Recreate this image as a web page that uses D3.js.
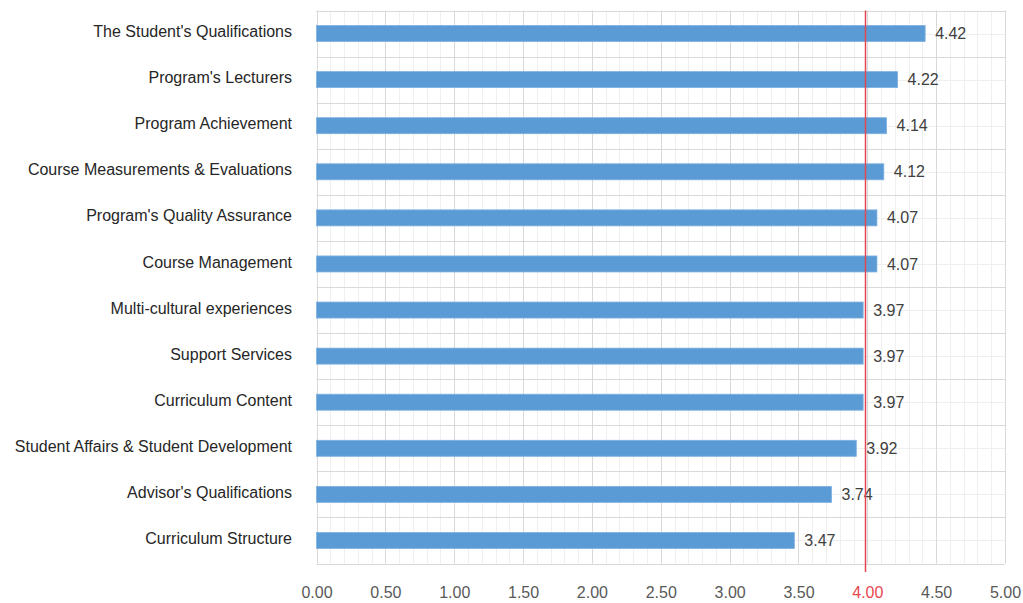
<!DOCTYPE html>
<html>
<head>
<meta charset="utf-8">
<script src="https://cdn.jsdelivr.net/npm/d3@7"></script>
<style>
  html, body { margin: 0; padding: 0; background: #fff; }
  svg { display: block; font-family: "Liberation Sans", Arial, sans-serif; }
</style>
</head>
<body>
<svg id="chart" width="1023" height="603"></svg>
<script>
const categories = [
  "The Student's Qualifications",
  "Program's Lecturers",
  "Program Achievement",
  "Course Measurements & Evaluations",
  "Program's Quality Assurance",
  "Course Management",
  "Multi-cultural experiences",
  "Support Services",
  "Curriculum Content",
  "Student Affairs & Student Development",
  "Advisor's Qualifications",
  "Curriculum Structure"
];
const values = [4.42, 4.22, 4.14, 4.12, 4.07, 4.07, 3.97, 3.97, 3.97, 3.92, 3.74, 3.47];
const tickValues = [0, 0.5, 1, 1.5, 2, 2.5, 3, 3.5, 4, 4.5, 5];
const minorTicks = d3.range(0, 51).map(i => i / 10);
const referenceValue = 4.0;

const svg = d3.select("#chart");
const m = { left: 316.5, right: 1005, top: 10.5, bottom: 563.5 };

const x = d3.scaleLinear().domain([0, 5]).range([m.left, m.right]);
const y = d3.scaleBand().domain(categories).range([m.top, m.bottom]).paddingInner(0).paddingOuter(0);

const g = svg.append("g");

// minor vertical grid
g.selectAll(".vminor").data(minorTicks).join("line")
  .attr("x1", d => Math.round(x(d)) + 0.5).attr("x2", d => Math.round(x(d)) + 0.5)
  .attr("y1", m.top).attr("y2", m.bottom)
  .attr("stroke", "#efefef").attr("stroke-width", 1);

// minor horizontal grid (band centers)
g.selectAll(".hminor").data(categories).join("line")
  .attr("x1", m.left).attr("x2", m.right)
  .attr("y1", d => Math.round(y(d) + y.bandwidth() / 2) + 0.5)
  .attr("y2", d => Math.round(y(d) + y.bandwidth() / 2) + 0.5)
  .attr("stroke", "#efefef").attr("stroke-width", 1);

// major vertical grid
g.selectAll(".vmajor").data(tickValues).join("line")
  .attr("x1", d => Math.round(x(d)) + 0.5).attr("x2", d => Math.round(x(d)) + 0.5)
  .attr("y1", m.top).attr("y2", m.bottom)
  .attr("stroke", "#d9d9d9").attr("stroke-width", 1);

// major horizontal grid (band boundaries)
const bounds = categories.map(c => y(c)).concat([m.bottom]);
g.selectAll(".hmajor").data(bounds).join("line")
  .attr("x1", m.left).attr("x2", m.right)
  .attr("y1", d => Math.round(d) + 0.5).attr("y2", d => Math.round(d) + 0.5)
  .attr("stroke", "#d9d9d9").attr("stroke-width", 1);

// bars
const barH = 16;
g.selectAll(".bar").data(values).join("rect")
  .attr("x", x(0))
  .attr("y", (d, i) => y(categories[i]) + y.bandwidth() / 2 - barH / 2)
  .attr("width", d => x(d) - x(0))
  .attr("height", barH)
  .attr("fill", "#5b9bd5")
  .attr("stroke", "#7fb1e0").attr("stroke-width", 0.8);

// value labels
g.selectAll(".val").data(values).join("text")
  .attr("x", d => x(d) + 10)
  .attr("y", (d, i) => y(categories[i]) + y.bandwidth() / 2)
  .attr("dy", "0.35em")
  .attr("font-size", 16)
  .attr("fill", "#404040")
  .text(d => d.toFixed(2));

// category labels
g.selectAll(".cat").data(categories).join("text")
  .attr("x", 292)
  .attr("y", d => y(d) + y.bandwidth() / 2 - 2)
  .attr("dy", "0.35em")
  .attr("text-anchor", "end")
  .attr("font-size", 16)
  .attr("fill", "#262626")
  .text(d => d);

// x axis tick labels
const xAxis = d3.axisBottom(x).tickValues(tickValues).tickSize(0).tickFormat(d3.format(".2f"));
const ax = svg.append("g").attr("transform", `translate(0, ${m.bottom + 20})`).call(xAxis);
ax.select(".domain").remove();
ax.selectAll("text")
  .attr("font-size", 16)
  .attr("font-family", "Liberation Sans, Arial, sans-serif")
  .attr("fill", d => d === referenceValue ? "#e8474f" : "#595959");

// reference line
svg.append("line")
  .attr("x1", Math.round(x(referenceValue)) - 1.5).attr("x2", Math.round(x(referenceValue)) - 1.5)
  .attr("y1", m.top).attr("y2", 572)
  .attr("stroke", "#e0474f").attr("stroke-width", 1.5);
</script>
</body>
</html>
